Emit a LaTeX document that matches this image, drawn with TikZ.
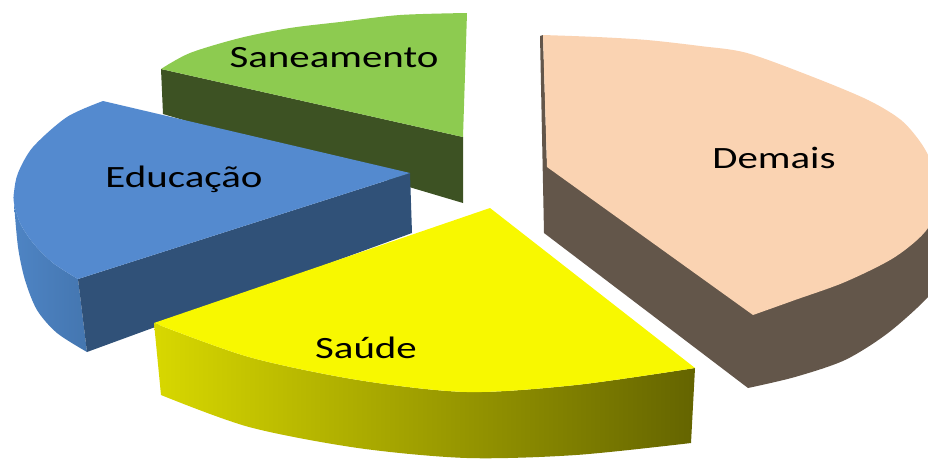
\documentclass[tikz,border=0pt]{standalone}
\usepackage{fontspec}
\setmainfont{Carlito}
\definecolor{grtop}{RGB}{141,203,80}
\definecolor{grside}{RGB}{61,82,35}
\definecolor{bltop}{RGB}{84,138,207}
\definecolor{blrad}{RGB}{48,81,120}
\definecolor{blsideL}{RGB}{78,132,196}
\definecolor{blsideR}{RGB}{68,118,176}
\definecolor{yetop}{RGB}{248,248,0}
\definecolor{yeL}{RGB}{216,216,0}
\definecolor{yeR}{RGB}{100,100,0}
\definecolor{pctop}{RGB}{250,211,178}
\definecolor{pcside}{RGB}{99,86,74}
\begin{document}
\begin{tikzpicture}[x=1pt,y=-1pt,
  lbl/.style={font=\fontsize{31}{37}\selectfont, anchor=base, inner sep=0pt, text=black}]
\useasboundingbox (0,0) rectangle (928,461);
\clip (0,0) rectangle (928,461);

% ---- Saneamento (green)
\fill[grside] (161,69) -- (463,137) -- (463,203) -- (163,114) -- cycle;
\fill[grtop] (161,69) -- plot[smooth] coordinates {(161,69) (190,53) (240,38) (290,28) (340,22) (400,15) (467,13)} -- (463,137) -- cycle;

% ---- Demais (peach)
\fill[pcside] (540,36) -- (544,233) -- (748,388)
  -- plot[smooth] coordinates {(748,388) (795,377) (845,360) (888,333) (928,297) (945,270)}
  -- (945,205) -- (547,167) -- (543,35) -- cycle;
\fill[pctop] (543,35) -- plot[smooth] coordinates {(543,35) (597,37) (647,40) (700,46) (747,53) (813,77) (868,100) (901,120) (921,143) (932,165) (935,195) (928,228) (895,257) (845,282) (795,300) (753,315)} -- (547,167) -- cycle;

% ---- Educacao (blue)
\shade[left color=blsideL, right color=blsideR] (14,203) -- plot[smooth] coordinates {(14,203) (18,247) (25,280) (37,310) (57,333) (87,352)} -- (78,279) -- plot[smooth] coordinates {(78,279) (53,263) (33,243) (20,223) (14,203)} -- cycle;
\fill[blrad] (78,279) -- (410,173) -- (412,233) -- (87,352) -- cycle;
\fill[bltop] (103,101) -- (410,173) -- (78,279) -- plot[smooth] coordinates {(78,279) (53,263) (33,243) (20,223) (14,203) (14,192) (18,173) (33,147) (67,117) (103,101)} -- cycle;

% ---- Saude (yellow)
\shade[left color=yeL, right color=yeR] (154,323) -- (161,395) -- plot[smooth] coordinates {(161,395) (249,427) (358,448) (467,458) (576,455) (691,443)} -- (695,368) -- plot[smooth] coordinates {(695,368) (576,385) (467,392) (358,380) (249,357) (154,323)} -- cycle;
\fill[yetop] (490,208) -- (154,323) -- plot[smooth] coordinates {(154,323) (249,357) (358,380) (467,392) (576,385) (695,368)} -- cycle;

% ---- labels
\node[lbl] (san) at (334,67) {\scalebox{1.32}[1]{Saneamento}};
\node[lbl] (edu) at (184,187) {\scalebox{1.32}[1]{Educação}};
\node[lbl] (sau) at (366,358) {\scalebox{1.32}[1]{Saúde}};
\node[lbl] (dem) at (774,168) {\scalebox{1.32}[1]{Demais}};
\end{tikzpicture}
\end{document}
